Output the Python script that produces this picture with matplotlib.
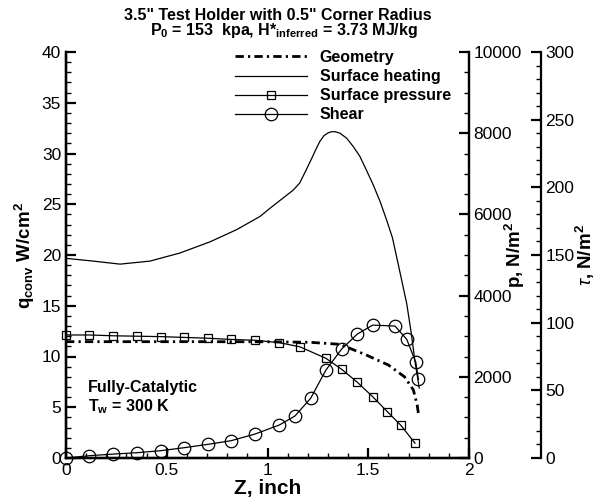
import matplotlib
matplotlib.use("Agg")
import matplotlib.pyplot as plt
from matplotlib.ticker import MultipleLocator, FuncFormatter
from matplotlib.lines import Line2D

plt.rcParams['font.family'] = ['Liberation Sans', 'DejaVu Sans']
plt.rcParams['mathtext.fontset'] = 'custom'
plt.rcParams['mathtext.rm'] = 'Liberation Sans'
plt.rcParams['mathtext.bf'] = 'Liberation Sans:bold'
plt.rcParams['mathtext.it'] = 'Liberation Sans:italic'

# geometry profile (plotted on q scale)
geom_z = [0.0, 0.6, 1.0, 1.21, 1.36, 1.49, 1.60, 1.68, 1.724, 1.743, 1.75]
geom_q = [11.46, 11.46, 11.45, 11.4, 11.2, 10.15, 9.16, 8.0, 6.7, 5.2, 4.24]

# surface heating, W/cm^2
heat_z = [0.0, 0.135, 0.268, 0.417, 0.566, 0.715, 0.847, 0.963, 1.012, 1.07,
          1.128, 1.16, 1.19, 1.219, 1.24, 1.26, 1.28, 1.302, 1.32, 1.335,
          1.36, 1.393, 1.425, 1.459, 1.49, 1.525, 1.56, 1.592, 1.62, 1.641,
          1.665, 1.691, 1.712, 1.732, 1.753]
heat_q = [19.67, 19.4, 19.1, 19.4, 20.2, 21.3, 22.5, 23.8, 24.6, 25.5,
          26.4, 27.1, 28.3, 29.5, 30.4, 31.2, 31.75, 32.05, 32.15, 32.15,
          32.0, 31.5, 30.7, 29.7, 28.4, 26.9, 25.2, 23.4, 21.7, 19.8,
          17.6, 15.2, 12.5, 9.5, 6.9]

# surface pressure, N/m^2
pres_z = [0.0, 0.116, 0.235, 0.351, 0.47, 0.586, 0.705, 0.82, 0.938, 1.059,
          1.16, 1.29, 1.368, 1.446, 1.522, 1.595, 1.661, 1.732]
pres_p = [3030, 3030, 3010, 3000, 2990, 2970, 2950, 2920, 2900, 2840,
          2740, 2455, 2185, 1865, 1510, 1140, 810, 365]

# shear, N/m^2
shear_z = [0.0, 0.116, 0.235, 0.351, 0.47, 0.586, 0.705, 0.82, 0.938, 1.059,
           1.136, 1.214, 1.29, 1.368, 1.446, 1.522, 1.633, 1.691, 1.736, 1.749]
shear_t = [0.0, 1.7, 2.9, 3.9, 5.4, 7.6, 10.1, 12.8, 17.7, 24.4,
           31.0, 44.1, 65.0, 80.5, 91.6, 98.2, 97.5, 87.7, 70.7, 58.1]

GEOM_DASH = (3, 1.5, 0.8, 1.5)

fig = plt.figure(figsize=(6.0, 4.99), dpi=100)
ax = fig.add_axes([66 / 600, 41 / 499, 403 / 600, 406 / 499])
axp = ax.twinx()
axt = ax.twinx()

ax.plot(geom_z, geom_q, color='black', lw=2.0, dashes=GEOM_DASH)
ax.plot(heat_z, heat_q, color='black', lw=0.9)
axp.plot(pres_z, pres_p, color='black', lw=0.9, marker='s', ms=6,
         mfc='none', mec='black', mew=0.9, clip_on=False)
axt.plot(shear_z, shear_t, color='black', lw=0.9, marker='o', ms=9,
         mfc='none', mec='black', mew=0.9, clip_on=False)

ax.set_xlim(0, 2)
ax.set_ylim(0, 40)
axp.set_ylim(0, 10000)
axt.set_ylim(0, 300)

axt.spines['right'].set_position(('axes', (541 - 66) / 403))

for a in (ax, axp, axt):
    a.spines['top'].set_visible(False)
    for s in a.spines.values():
        s.set_linewidth(1.6)

ax.xaxis.set_major_locator(MultipleLocator(0.5))
ax.xaxis.set_minor_locator(MultipleLocator(0.1))
ax.xaxis.set_major_formatter(FuncFormatter(lambda v, p: '%g' % v))
ax.yaxis.set_major_locator(MultipleLocator(5))
ax.yaxis.set_minor_locator(MultipleLocator(1))
axp.yaxis.set_major_locator(MultipleLocator(2000))
axp.yaxis.set_minor_locator(MultipleLocator(500))
axt.yaxis.set_major_locator(MultipleLocator(50))
axt.yaxis.set_minor_locator(MultipleLocator(10))

ax.tick_params(axis='both', which='major', direction='in', length=7, width=1.6,
               labelsize=12.5, top=False, right=False)
ax.tick_params(axis='both', which='minor', direction='in', length=3.5, width=1,
               top=False, right=False)
for a in (axp, axt):
    a.tick_params(axis='y', which='major', direction='in', length=7, width=1.6,
                  labelsize=12.5, pad=3)
    a.tick_params(axis='y', which='minor', direction='in', length=3.5, width=1)

ax.set_xlabel('Z, inch', fontsize=15, fontweight='bold', labelpad=1)
ax.set_ylabel(r'$\mathbf{q_{conv}}$ W/cm$^\mathbf{2}$', fontsize=13.5, fontweight='bold')
axp.set_ylabel(r'p, N/m$^\mathbf{2}$', fontsize=13.5, fontweight='bold')
axt.set_ylabel(r'$\tau$, N/m$^\mathbf{2}$', fontsize=13.5, fontweight='bold')
for a, xc in ((ax, 25), (axp, 515), (axt, 585)):
    a.yaxis.label.set_va('center')
    a.yaxis.set_label_coords((xc - 66) / 403, 0.5)

ax.text(0.109, 6.9, 'Fully-Catalytic', fontsize=11.5, fontweight='bold', va='center')
ax.text(0.109, 5.1, r'T$_\mathbf{w}$ = 300 K', fontsize=11.5, fontweight='bold', va='center')

fig.text(278 / 600, 1 - 15 / 499, '3.5" Test Holder with 0.5" Corner Radius',
         ha='center', va='center', fontsize=11.5, fontweight='bold')
fig.text(284 / 600, 1 - 31 / 499,
         r'P$_\mathbf{0}$ = 153  kpa, H*$_\mathbf{inferred}$ = 3.73 MJ/kg',
         ha='center', va='center', fontsize=11.5, fontweight='bold')

handles = [
    Line2D([0], [0], color='black', lw=2.0, dashes=GEOM_DASH),
    Line2D([0], [0], color='black', lw=0.9),
    Line2D([0], [0], color='black', lw=0.9, marker='s', ms=6, mfc='none', mew=0.9),
    Line2D([0], [0], color='black', lw=0.9, marker='o', ms=9, mfc='none', mew=0.9),
]
labels = ['Geometry', 'Surface heating', 'Surface pressure', 'Shear']
fig.legend(handles, labels, loc='upper left', bbox_to_anchor=(235 / 600, 1 - 50 / 499),
           frameon=False, borderpad=0, borderaxespad=0, handlelength=4.5,
           handletextpad=0.8, labelspacing=0.26, numpoints=1,
           prop={'weight': 'bold', 'size': 11.5})

fig.savefig('out.png', dpi=100)
